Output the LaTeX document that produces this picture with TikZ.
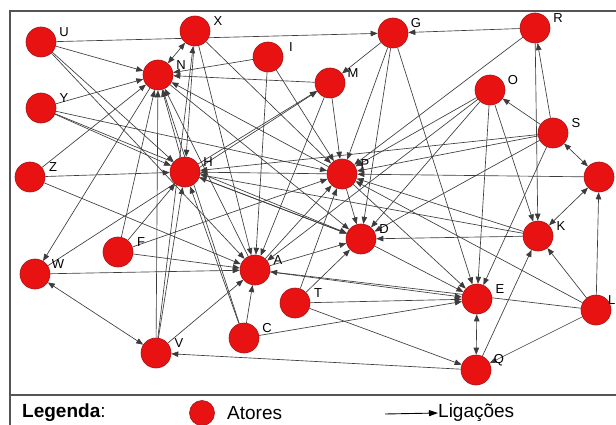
\documentclass[tikz,border=0pt]{standalone}
\usepackage{fontspec}
\setmainfont{Liberation Sans}
\usetikzlibrary{arrows.meta}
\pgfdeclarelayer{bg}
\pgfdeclarelayer{edges}
\pgfsetlayers{bg,edges,main}
\definecolor{actorfill}{RGB}{232,18,18}
\definecolor{actordraw}{RGB}{170,20,20}
\definecolor{edgecol}{RGB}{60,60,60}
\definecolor{framecol}{RGB}{85,85,85}
\tikzset{
  actor/.style={circle,minimum size=30pt,inner sep=0pt,fill=actorfill,draw=actordraw,line width=0.6pt},
  lbl/.style={inner sep=0pt,font=\fontsize{13}{15}\selectfont,text=black},
  edge/.style={draw=edgecol,line width=0.65pt,-{Triangle[length=7pt,width=5.5pt]}},
  biedge/.style={draw=edgecol,line width=0.65pt,{Triangle[length=7pt,width=5.5pt]}-{Triangle[length=7pt,width=5.5pt]}},
  legtext/.style={inner sep=0pt,anchor=west,font=\fontsize{19}{22}\selectfont}
}
\begin{document}
\begin{tikzpicture}[x=1pt,y=-1pt]
\useasboundingbox (0,0) rectangle (616,425);
\begin{pgfonlayer}{bg}
\fill[white] (0,0) rectangle (616,425);
\end{pgfonlayer}
\draw[framecol,line width=1.5pt] (10,440) -- (10,11) -- (630,11);
\draw[framecol,line width=1.5pt] (10,395) -- (630,395);
\foreach \n/\x/\y in {U/41/42, X/195/31, N/158/75, I/268/57, M/330/83, G/393/33, R/535/28,
  Y/41/108, O/490/90, S/553/133, Z/30/177, H/185/172, P/342/174, B/599/177,
  F/118/252, W/35/274, D/361/239, K/538/236, A/255/270, T/295/303, E/477/299,
  L/596/310, C/244/338, V/156/353, Q/476/370}{
  \node[actor] (\n) at (\x,\y) {};
}
\foreach \n/\x/\y in {U/41/42, X/195/31, N/158/75, I/268/57, M/330/83, G/393/33, R/535/28,
  Y/41/108, O/490/90, S/553/133, Z/30/177, H/185/172, P/342/174,
  F/118/252, W/35/274, D/361/239, K/538/236, A/255/270, T/295/303, E/477/299,
  C/244/338, V/156/353, Q/476/370}{
  \node[lbl] (l\n) at (\x+23,\y-10) {\n};
}
\node[lbl,anchor=west] (lL) at (608,300) {L};
\begin{pgfonlayer}{edges}
\foreach \a/\b in {U/G, U/N, U/H, U/A,
  Y/N, Y/H, Y/P, Y/D,
  Z/N, Z/H, Z/A,
  X/H, X/P, X/A, V/X,
  I/N, I/A, I/P,
  M/N, M/P, M/A, H/M,
  G/M, G/P, G/D, G/E, R/G,
  R/P, R/K, S/R, S/O, L/B, L/K, L/Q, L/P, L/A,
  Q/K, Q/V,
  O/D, O/E, O/K, O/P, O/A,
  T/E, T/Q, T/D, T/P,
  C/A, C/N, C/E, C/H,
  V/A, V/N, V/H,
  N/W, W/A, W/M,
  F/N, F/H, F/P, F/A,
  A/N, A/D, A/E, A/P,
  P/N, P/H, P/D, P/E,
  D/H, D/E, N/D, H/D, H/N,
  S/P, S/E, S/H, S/D,
  B/P, K/D, K/P, K/H}{
  \draw[edge] (\a) -- (\b);
}
\foreach \a/\b in {X/N, S/B, K/B, E/Q, V/W}{
  \draw[biedge] (\a) -- (\b);
}
\end{pgfonlayer}
% legend
\node[legtext] (leg) at (22,413) {\textbf{Legenda}:};
\node[circle,minimum size=25pt,inner sep=0pt,fill=actorfill,draw=actordraw,line width=0.6pt] (legactor) at (202,413) {};
\node[legtext] (legatores) at (227,413) {Atores};
\coordinate (legA) at (385,414);
\node[legtext] (legligs) at (438,413) {Ligações};
\draw[black,line width=0.9pt,-{Triangle[length=9pt,width=6pt]}] (legA) -- (legligs.west);
\end{tikzpicture}
\end{document}
